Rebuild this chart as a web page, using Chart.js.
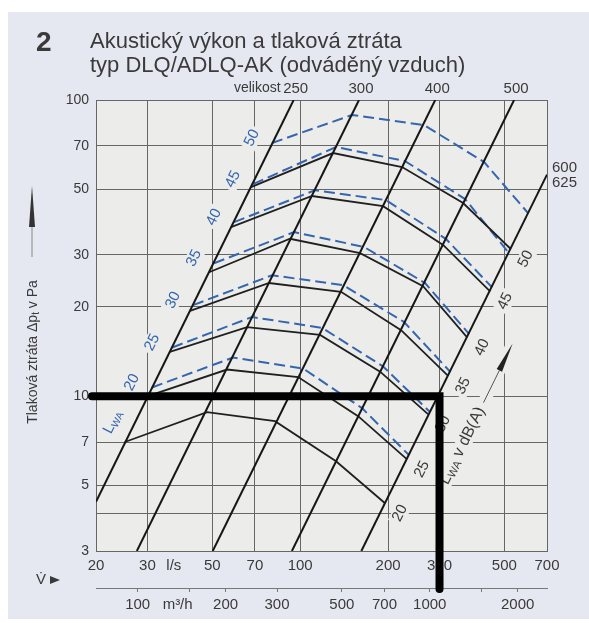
<!DOCTYPE html>
<html><head><meta charset="utf-8">
<script src="https://cdn.jsdelivr.net/npm/chart.js@4.4.1/dist/chart.umd.min.js"></script>
<style>
html,body{margin:0;padding:0;background:#fff;}
#wrap{position:relative;width:589px;height:623px;overflow:hidden;}
#panel{position:absolute;left:8px;top:12px;right:0;bottom:4px;background:#e6e8f1;}
canvas{position:absolute;left:0;top:0;}
.t{position:absolute;font-family:"Liberation Sans",Arial,sans-serif;color:#3a3a3a;white-space:nowrap;}
</style></head><body>
<div id="wrap">
<div id="panel"></div>
<canvas id="c" width="589" height="623"></canvas>
<div class="t" style="left:36px;top:28px;font-size:28px;line-height:28px;font-weight:bold;">2</div>
<div class="t" style="left:90px;top:29px;font-size:22px;line-height:24px;">Akustický výkon a tlaková ztráta<br>typ DLQ/ADLQ-AK (odváděný vzduch)</div>
</div>
<script>
// ---------- data (l/s, Pa) ----------
const levels = [20, 25, 30, 35, 40, 45, 50];

const flowTicks = [20, 30, 50, 70, 100, 200, 300, 500, 700];
const pressureTicks = [3, 4, 5, 7, 10, 20, 30, 50, 70, 100];
const pressureTickLabels = ['3', '', '5', '7', '10', '20', '30', '50', '70', '100'];
const m3hTicks = [100, 150, 200, 300, 500, 700, 1000, 1500, 2000];
const m3hTickLabels = ['100', '', '200', '300', '500', '700', '1000', '', '2000'];
const M3H_PER_LS = 3.6;

const sizeNames = ['250', '300', '400', '500', '600\n625'];
const size250 = [[20, 4.4], [95, 100]];
const size300 = [[27.6, 3], [159, 100]];
const size400 = [[50.2, 3], [290, 100]];
const size500 = [[93.7, 3], [540, 100]];
const size600 = [[162, 3], [700, 56]];

const solid20 = [[25.1, 7.0], [48.0, 8.83], [82.0, 8.23], [132.7, 6.03], [195.3, 4.35]];
const solid25 = [[30.1, 10.0], [56.2, 12.3], [98.4, 11.6], [157.9, 8.56], [232.3, 6.12]];
const solid30 = [[35.8, 14.1], [65.8, 17.1], [117.0, 16.1], [187.8, 12.1], [274, 8.7]];
const solid35 = [[42.0, 19.4], [78.3, 24.1], [138.0, 22.5], [221.6, 16.7], [321, 11.7]];
const solid40 = [[48.8, 26.2], [92.3, 34.0], [160.4, 30.4], [263.6, 23.5], [373, 15.8]];
const solid45 = [[58.0, 37.2], [109.8, 47.4], [192.3, 43.8], [308.6, 32.4], [447, 22.6]];
const solid50 = [[67.9, 50.8], [129.6, 66.2], [223.3, 59.4], [361.3, 44.9], [526, 31.4]];

const dashed20 = [[31.1, 10.7], [58.9, 13.5], [102.3, 12.4], [162.9, 9.11], [236, 6.32]];
const dashed25 = [[36.5, 14.6], [68.4, 18.5], [118.9, 17.0], [192.3, 12.6], [278.6, 8.83]];
const dashed30 = [[43.0, 20.3], [80.1, 25.6], [140.3, 23.7], [226.8, 17.8], [326, 12.1]];
const dashed35 = [[50.7, 28.1], [95.3, 35.8], [165.5, 31.9], [267.8, 24.1], [379, 16.2]];
const dashed40 = [[59.4, 38.7], [112.5, 49.6], [196.9, 45.9], [316, 33.9], [454, 23.3]];
const dashed45 = [[69.0, 52.0], [132.7, 69.4], [228.6, 62.2], [367, 46.3], [519, 30.4]];
const dashed50 = [[80.1, 71.6], [150.5, 89.0], [265.7, 82.3], [426.6, 61.7], [603, 41.5]];

const markerFlow = 300;     // l/s
const markerPressure = 10;  // Pa
const dbLabelAt = [359, 6.8];

// ---------- styling ----------
const FONT = '"Liberation Sans", Arial, sans-serif';
const BLUE = '#3566ad';
const INK = '#161616';
const TXT = '#3a3a3a';
const GRID = '#666';
const PLOT_BG = '#ececeb';

const sizeLines = [size250, size300, size400, size500, size600];
const solidLines = [solid20, solid25, solid30, solid35, solid40, solid45, solid50];
const dashedLines = [dashed20, dashed25, dashed30, dashed35, dashed40, dashed45, dashed50];
const pts = arr => arr.map(([x, y]) => ({x, y}));

const datasets = [];
sizeLines.forEach(l => datasets.push({data: pts(l), showLine: true, borderColor: INK, borderWidth: 2, pointRadius: 0, pointHoverRadius: 0}));
solidLines.forEach(l => datasets.push({data: pts(l), showLine: true, borderColor: '#202020', borderWidth: 1.8, pointRadius: 0, pointHoverRadius: 0}));
dashedLines.forEach(l => datasets.push({data: pts(l), showLine: true, borderColor: BLUE, borderWidth: 2, borderDash: [11, 5], pointRadius: 0, pointHoverRadius: 0}));

function measureParts(ctx, parts) {
  let total = 0;
  ctx.save();
  parts.forEach(p => { ctx.font = p.font; p.w = ctx.measureText(p.t).width; total += p.w; });
  ctx.restore();
  return total;
}

function drawParts(ctx, spec, knockout) {
  const {parts, cx, cy, ang, align, color} = spec;
  const total = measureParts(ctx, parts);
  ctx.save();
  ctx.translate(cx, cy);
  ctx.rotate(ang);
  let x0 = align === 'center' ? -total / 2 : (align === 'right' ? -total : 0);
  if (knockout) {
    ctx.fillStyle = PLOT_BG;
    ctx.fillRect(x0 - 3, -8, total + 6, 16);
  } else {
    ctx.fillStyle = color;
    ctx.textAlign = 'left';
    ctx.textBaseline = 'middle';
    parts.forEach(p => { ctx.font = p.font; ctx.fillText(p.t, x0, p.dy || 0); x0 += p.w; });
  }
  ctx.restore();
  return total;
}

function arrow(ctx, sx, sy, ux, uy, len, headLen, half, lineColor, headColor) {
  const ex = sx + ux * len, ey = sy + uy * len;
  ctx.save();
  ctx.strokeStyle = lineColor; ctx.lineWidth = 1;
  ctx.beginPath(); ctx.moveTo(sx, sy); ctx.lineTo(ex - ux * headLen, ey - uy * headLen); ctx.stroke();
  const bx = ex - ux * headLen, by = ey - uy * headLen;
  ctx.fillStyle = headColor;
  ctx.beginPath();
  ctx.moveTo(ex, ey);
  ctx.lineTo(bx - uy * half, by + ux * half);
  ctx.lineTo(bx + uy * half, by - ux * half);
  ctx.closePath(); ctx.fill();
  ctx.restore();
}

function lineAngle(chart) {
  const X = chart.scales.x, Y = chart.scales.y;
  return Math.atan2(Y.getPixelForValue(size250[1][1]) - Y.getPixelForValue(size250[0][1]),
                    X.getPixelForValue(size250[1][0]) - X.getPixelForValue(size250[0][0]));
}

function rotatedSpecs(chart) {
  const X = chart.scales.x, Y = chart.scales.y;
  const px = v => X.getPixelForValue(v), py = v => Y.getPixelForValue(v);
  const ang = lineAngle(chart);
  const ux = Math.cos(ang), uy = Math.sin(ang);
  const F15 = '15px ' + FONT;
  const specs = [];
  dashedLines.forEach((l, i) => {
    const cx = px(l[0][0]) - 20, cy = py(l[0][1]) - 5;
    specs.push({parts: [{t: String(levels[i]), font: F15}], cx, cy, ang, align: 'center', color: BLUE});
    if (i === 0) {
      specs.push({parts: [{t: 'L', font: F15}, {t: 'WA', font: '10px ' + FONT, dy: 4}], cx: cx - ux * 44, cy: cy - uy * 44, ang, align: 'center', color: BLUE});
    }
  });
  solidLines.forEach((l, i) => {
    const e = l[l.length - 1];
    specs.push({parts: [{t: String(levels[i]), font: F15}], cx: px(e[0]) + 15, cy: py(e[1]) + 10, ang, align: 'center', color: TXT});
  });
  specs.push({db: true, parts: [{t: 'L', font: '16px ' + FONT}, {t: 'WA', font: '11px ' + FONT, dy: 4}, {t: ' v dB(A)', font: '16px ' + FONT}],
              cx: px(dbLabelAt[0]), cy: py(dbLabelAt[1]), ang, align: 'center', color: TXT});
  return specs;
}

const decor = {
  id: 'decor',
  beforeDraw(chart) {
    const {ctx, chartArea: a} = chart;
    ctx.save(); ctx.fillStyle = PLOT_BG; ctx.fillRect(a.left, a.top, a.right - a.left, a.bottom - a.top); ctx.restore();
  },
  beforeDatasetsDraw(chart) {
    const {ctx, chartArea: a} = chart;
    ctx.save();
    ctx.beginPath(); ctx.rect(a.left + 1, a.top + 1, a.right - a.left - 2, a.bottom - a.top - 2); ctx.clip();
    const specs = rotatedSpecs(chart);
    specs.forEach(s => {
      const tw = drawParts(ctx, s, true);
      if (s.db) {
        const ux = Math.cos(s.ang), uy = Math.sin(s.ang);
        const sx = s.cx + ux * (tw / 2 + 6), sy = s.cy + uy * (tw / 2 + 6);
        ctx.save(); ctx.translate(sx, sy); ctx.rotate(s.ang); ctx.fillStyle = PLOT_BG; ctx.fillRect(-2, -6, 70, 12); ctx.restore();
      }
    });
    ctx.restore();
  },
  afterDraw(chart) {
    const {ctx, chartArea: a} = chart;
    const X = chart.scales.x, Y = chart.scales.y, X2 = chart.scales.x2;
    const px = v => X.getPixelForValue(v), py = v => Y.getPixelForValue(v);
    const F15 = '15px ' + FONT;

    ctx.save();
    ctx.textBaseline = 'middle';
    // size labels
    ctx.fillStyle = TXT;
    ctx.font = F15;
    sizeLines.forEach((l, i) => {
      const e = l[l.length - 1];
      const names = sizeNames[i].split('\n');
      if (e[1] >= Y.max) {
        ctx.textAlign = 'center';
        ctx.fillText(names[0], px(e[0]) + 2, a.top - 11);
      } else {
        ctx.textAlign = 'left';
        names.forEach((t, k) => ctx.fillText(t, a.right + 5, py(e[1]) - 7 + 15 * k));
      }
    });
    ctx.font = '14px ' + FONT; ctx.textAlign = 'right';
    ctx.fillText('velikost', px(size250[1][0]) - 13, a.top - 12);

    // rotated level labels
    rotatedSpecs(chart).forEach(s => {
      const tw = drawParts(ctx, s, false);
      if (s.db) {
        const ux = Math.cos(s.ang), uy = Math.sin(s.ang);
        arrow(ctx, s.cx + ux * (tw / 2 + 6), s.cy + uy * (tw / 2 + 6), ux, uy, 66, 30, 3, '#555', '#222');
      }
    });

    // y axis title
    drawParts(ctx, {parts: [{t: 'Tlaková ztráta Δp', font: '14px ' + FONT}, {t: 't', font: '10px ' + FONT, dy: 3}, {t: ' v Pa', font: '14px ' + FONT}],
                    cx: a.left - 63, cy: a.top + 252, ang: -Math.PI / 2, align: 'center', color: TXT}, false);
    arrow(ctx, a.left - 64, a.top + 157, 0, -1, 71, 41, 3, '#888', '#333');

    // x labels
    ctx.fillStyle = TXT; ctx.font = F15; ctx.textAlign = 'center';
    ctx.fillText('l/s', (px(30) + px(50)) / 2 - 6, a.bottom + 15);
    ctx.fillText('m³/h', (X2.getPixelForValue(100) + X2.getPixelForValue(200)) / 2 - 4, X2.top + 17);
    ctx.textAlign = 'left';
    ctx.fillText('V\u0307', 36, X2.top - 8);
    ctx.beginPath(); ctx.moveTo(50, X2.top - 12); ctx.lineTo(60, X2.top - 8); ctx.lineTo(50, X2.top - 4); ctx.closePath(); ctx.fill();

    // thick marker line
    const mx = px(markerFlow), my = py(markerPressure);
    ctx.strokeStyle = '#000'; ctx.lineWidth = 8; ctx.lineJoin = 'miter'; ctx.lineCap = 'round';
    ctx.beginPath(); ctx.moveTo(a.left - 4, my); ctx.lineTo(mx, my); ctx.lineTo(mx, X2.top + 1); ctx.stroke();
    ctx.restore();
  }
};

const tickFont = {family: FONT, size: 15};
new Chart(document.getElementById('c'), {
  type: 'scatter',
  data: {datasets},
  options: {
    responsive: false,
    animation: false,
    devicePixelRatio: 1,
    events: [],
    layout: {padding: {left: 0, right: 42, top: 100, bottom: 0}},
    plugins: {legend: {display: false}, tooltip: {enabled: false}, title: {display: false}},
    scales: {
      x: {
        type: 'logarithmic', position: 'bottom', min: flowTicks[0], max: flowTicks[flowTicks.length - 1],
        afterBuildTicks: s => { s.ticks = flowTicks.map(v => ({value: v})); },
        afterFit: s => { s.height = 37; },
        ticks: {autoSkip: false, maxRotation: 0, padding: 6, color: TXT, font: tickFont, callback: (v, i) => String(flowTicks[i])},
        grid: {color: GRID, lineWidth: 1, drawTicks: false},
        border: {display: true, color: GRID, width: 1}
      },
      x2: {
        type: 'logarithmic', position: 'bottom', weight: 1,
        min: flowTicks[0] * M3H_PER_LS, max: flowTicks[flowTicks.length - 1] * M3H_PER_LS,
        afterBuildTicks: s => { s.ticks = m3hTicks.map(v => ({value: v})); },
        afterFit: s => { s.height = 35; },
        ticks: {autoSkip: false, maxRotation: 0, padding: 4, color: TXT, font: tickFont, callback: (v, i) => m3hTickLabels[i]},
        grid: {drawOnChartArea: false, drawTicks: true, tickLength: 4, color: '#777'},
        border: {display: true, color: '#777', width: 1}
      },
      y: {
        type: 'logarithmic', position: 'left', min: pressureTicks[0], max: pressureTicks[pressureTicks.length - 1],
        afterBuildTicks: s => { s.ticks = pressureTicks.map(v => ({value: v})); },
        afterFit: s => { s.width = 96; },
        ticks: {autoSkip: false, padding: 7, color: TXT, font: {family: FONT, size: 14}, callback: (v, i) => pressureTickLabels[i]},
        grid: {color: GRID, lineWidth: 1, drawTicks: false},
        border: {display: true, color: GRID, width: 1}
      }
    }
  },
  plugins: [decor]
});
</script>
</body></html>
